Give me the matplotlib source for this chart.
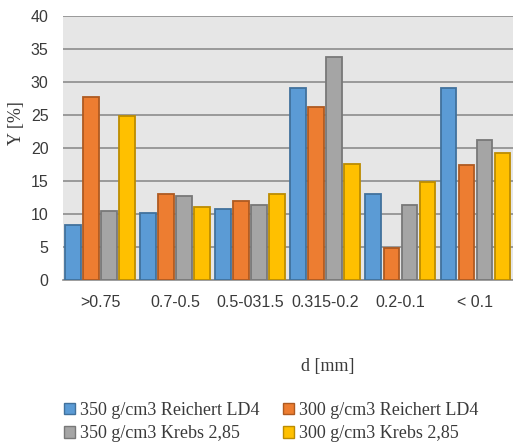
import numpy as np
import matplotlib.pyplot as plt
from matplotlib.patches import Patch

# Data
categories = ['>0.75', '0.7-0.5', '0.5-031.5', '0.315-0.2', '0.2-0.1', '< 0.1']
reichert_350 = [8.3, 10.2, 10.7, 29.1, 13.0, 29.1]
reichert_300 = [27.8, 13.0, 11.9, 26.2, 4.8, 17.4]
krebs_350 = [10.5, 12.7, 11.3, 33.8, 11.4, 21.2]
krebs_300 = [24.8, 11.0, 13.0, 17.6, 14.9, 19.3]
series_labels = ['350 g/cm3 Reichert LD4', '300 g/cm3 Reichert LD4',
                 '350 g/cm3 Krebs 2,85', '300 g/cm3 Krebs 2,85']

colors = ['#5B9BD5', '#ED7D31', '#A5A5A5', '#FFC000']
edges = ['#41719C', '#AE5A21', '#787878', '#BC8C00']

fig = plt.figure(figsize=(5.13, 4.45), dpi=100)
ax = fig.add_axes([0.122, 0.371, 0.878, 0.593])
ax.set_facecolor('#E6E6E6')

x = np.arange(len(categories))
width = 0.21
step = 0.24
all_series = [reichert_350, reichert_300, krebs_350, krebs_300]
for i, vals in enumerate(all_series):
    ax.bar(x + (i - 1.5) * step, vals, width, color=colors[i],
           edgecolor=edges[i], linewidth=1.3, zorder=3)

ax.set_xlim(-0.5, len(categories) - 0.5)
ax.set_ylim(0, 40)
ax.set_yticks(range(0, 41, 5))
ax.set_xticks(x)
ax.set_xticklabels(categories)
ax.grid(axis='y', color='#8C8C8C', linewidth=1.2, zorder=0)
ax.tick_params(length=0, labelsize=11.5, labelcolor='#3A3A3A')
ax.tick_params(axis='x', pad=11)
ax.tick_params(axis='y', pad=10)
for lbl in ax.get_xticklabels() + ax.get_yticklabels():
    lbl.set_family('Liberation Sans')
for s in ['top', 'right', 'left']:
    ax.spines[s].set_visible(False)
ax.spines['bottom'].set_color('#8C8C8C')
ax.spines['bottom'].set_linewidth(1.2)

fig.text(16 / 513, 1 - 123 / 445, 'Y [%]', rotation=90, ha='center', va='center',
         family='Liberation Serif', fontsize=13, color='#3A3A3A')
fig.text(328 / 513, 1 - 366 / 445, 'd [mm]', ha='center', va='center',
         family='Liberation Serif', fontsize=13, color='#3A3A3A')

# row-wise legend order
order = [0, 2, 1, 3]
handles = [Patch(facecolor=colors[i], edgecolor=edges[i]) for i in order]
labels = [series_labels[i] for i in order]
fig.legend(handles, labels, ncol=2, loc='upper left',
           bbox_to_anchor=(64 / 513, 1 - 402 / 445), frameon=False,
           prop={'family': 'Liberation Serif', 'size': 13},
           handlelength=0.6, handleheight=0.6, handletextpad=0.3,
           columnspacing=1.3, labelspacing=0.35, labelcolor='#3A3A3A',
           borderaxespad=0, borderpad=0)

fig.savefig('out.png', dpi=100)
